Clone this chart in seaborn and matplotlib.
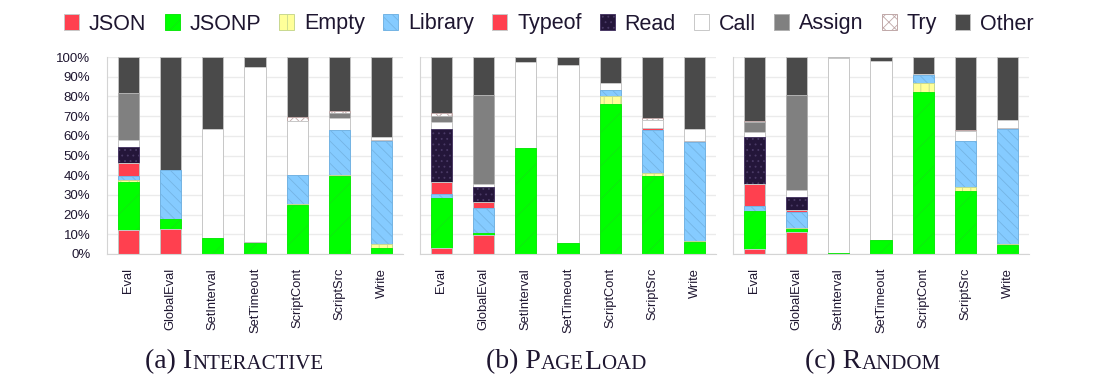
import numpy as np
import matplotlib
matplotlib.use("Agg")
import matplotlib.pyplot as plt
import matplotlib.patches as mpatches
from matplotlib.offsetbox import TextArea, HPacker, AnchoredOffsetbox
import seaborn as sns

sns.set_style("white")
plt.rcParams["font.family"] = ["Liberation Sans", "DejaVu Sans"]
plt.rcParams["hatch.linewidth"] = 0.6

TEXT = "#1e1630"
GRID = "#ebebeb"
AXIS = "#d4d4d4"

# categories and stacked series (percent of calls)
categories = ["Eval", "GlobalEval", "SetInterval", "SetTimeout", "ScriptCont", "ScriptSrc", "Write"]
series_names = ["JSON", "JSONP", "Empty", "Library", "Typeof", "Read", "Call", "Assign", "Try", "Other"]

interactive = {
    "JSON":    [12.3, 12.5, 0.0, 0.0, 0.0, 0.0, 0.0],
    "JSONP":   [24.5, 5.1, 8.0, 5.8, 24.9, 39.8, 2.9],
    "Empty":   [1.0, 0.0, 0.0, 0.0, 0.7, 0.5, 2.0],
    "Library": [1.7, 25.1, 0.0, 0.0, 14.6, 22.7, 52.7],
    "Typeof":  [6.5, 0.0, 0.0, 0.3, 0.0, 0.0, 0.3],
    "Read":    [8.5, 0.0, 0.0, 0.0, 0.0, 0.0, 0.0],
    "Call":    [3.4, 0.0, 55.4, 88.8, 27.1, 6.0, 1.4],
    "Assign":  [23.7, 0.0, 0.0, 0.0, 0.0, 2.5, 0.0],
    "Try":     [0.0, 0.0, 0.0, 0.0, 2.3, 1.0, 0.0],
    "Other":   [18.4, 57.3, 36.6, 5.1, 30.4, 27.5, 40.7],
}

pageload = {
    "JSON":    [3.2, 9.7, 0.0, 0.0, 0.0, 0.0, 0.0],
    "JSONP":   [25.1, 1.1, 53.7, 5.4, 76.3, 39.7, 5.9],
    "Empty":   [0.0, 0.0, 0.0, 0.0, 3.7, 1.3, 0.9],
    "Library": [2.2, 12.8, 0.0, 0.0, 3.4, 22.0, 49.8],
    "Typeof":  [6.3, 3.0, 0.0, 0.0, 0.0, 0.9, 1.0],
    "Read":    [26.6, 7.3, 0.0, 0.0, 0.0, 0.0, 0.0],
    "Call":    [3.4, 1.5, 43.6, 90.7, 3.4, 4.2, 5.8],
    "Assign":  [3.4, 45.1, 0.0, 0.0, 0.0, 0.0, 0.0],
    "Try":     [1.3, 0.0, 0.0, 0.0, 0.0, 0.9, 0.0],
    "Other":   [28.5, 19.5, 2.7, 3.9, 13.2, 31.0, 36.6],
}

random_ = {
    "JSON":    [2.4, 11.2, 0.0, 0.0, 0.0, 0.0, 0.0],
    "JSONP":   [19.3, 1.5, 0.3, 7.1, 82.0, 32.0, 4.6],
    "Empty":   [0.0, 0.7, 0.0, 0.0, 4.8, 2.2, 0.5],
    "Library": [2.7, 7.8, 0.0, 0.0, 4.0, 23.4, 58.3],
    "Typeof":  [11.0, 1.2, 0.0, 0.0, 0.0, 0.0, 0.8],
    "Read":    [23.9, 6.6, 0.0, 0.0, 0.0, 0.0, 0.0],
    "Call":    [2.7, 3.4, 99.2, 90.7, 0.7, 4.6, 3.6],
    "Assign":  [4.8, 48.1, 0.0, 0.0, 0.0, 0.0, 0.0],
    "Try":     [0.8, 0.0, 0.0, 0.0, 0.0, 0.8, 0.0],
    "Other":   [32.4, 19.5, 0.5, 2.2, 8.5, 37.0, 32.2],
}

# look of each series: face colour, hatch, hatch/edge colour
face = {"JSON": "#ff404f", "JSONP": "#00ff00", "Empty": "#ffff99", "Library": "#85cbff",
        "Typeof": "#ff404f", "Read": "#24163a", "Call": "#ffffff", "Assign": "#808080",
        "Try": "#ffffff", "Other": "#4a4a4a"}
hatch = {"JSON": None, "JSONP": "/", "Empty": "||", "Library": "\\\\\\", "Typeof": None,
         "Read": "...", "Call": None, "Assign": None, "Try": "xxx", "Other": None}
edge = {"JSON": "#c8c8c8", "JSONP": "#10e810", "Empty": "#c8d890", "Library": "#74b4e4",
        "Typeof": "#c8c8c8", "Read": "#4a3a66", "Call": "#c8c8c8", "Assign": "#b0b0b0",
        "Try": "#c0a8a8", "Other": "#c0c0c0"}

fig = plt.figure(figsize=(11, 3.82), dpi=100)
W, H = 1100, 382
lefts = [107, 420, 733]
ax_w = 296
bottom = (H - 254) / H
height = (254 - 57) / H

panels = [interactive, pageload, random_]
axes = []
for k, (left, data) in enumerate(zip(lefts, panels)):
    ax = fig.add_axes([left / W, bottom, ax_w / W, height])
    vals = np.array([data[s] for s in series_names])
    tops = np.cumsum(vals, axis=0)
    # draw tallest first, each lower stack covers the one above it
    for i in reversed(range(len(series_names))):
        s = series_names[i]
        kws = dict(edgecolor=edge[s], linewidth=0.7)
        if hatch[s]:
            kws["hatch"] = hatch[s]
        sns.barplot(x=categories, y=tops[i], color=face[s], saturation=1, width=0.5,
                    errorbar=None, ax=ax, **kws)
    ax.set_ylim(0, 100)
    ax.set_xlim(-0.5, len(categories) - 0.5)
    ax.set_yticks(np.arange(0, 101, 10))
    ax.set_yticklabels([f"{v}%" for v in range(0, 101, 10)] if k == 0 else [])
    ax.yaxis.grid(True, color=GRID, linewidth=1)
    ax.set_axisbelow(True)
    ax.set_xticks(range(len(categories)))
    ax.set_xticklabels(categories, rotation=90, fontsize=9.3, color=TEXT)
    ax.set_xticks(np.arange(-0.5, len(categories)), minor=True)
    ax.tick_params(axis="x", which="major", length=0, pad=10)
    ax.tick_params(axis="x", which="minor", length=7, color=AXIS, width=1)
    ax.tick_params(axis="y", length=4, color=AXIS, labelsize=9.5, labelcolor=TEXT, pad=8)
    ax.set_xlabel("")
    ax.set_ylabel("")
    for sp in ["top", "right"]:
        ax.spines[sp].set_visible(False)
    for sp in ["left", "bottom"]:
        ax.spines[sp].set_color(AXIS)
    axes.append(ax)

# legend across the top
handles = []
for s in series_names:
    handles.append(mpatches.Patch(facecolor=face[s], edgecolor=edge[s], hatch=hatch[s],
                                  linewidth=0.7, label=s))
fig.legend(handles=handles, loc="center", bbox_to_anchor=(549 / W, 1 - 24 / H), ncol=10,
           frameon=False, fontsize=15.5, handlelength=0.7, handleheight=0.75,
           handletextpad=0.45, columnspacing=0.85, labelcolor=TEXT)

# sub captions with small caps
captions = [[("(a) I", 20), ("NTERACTIVE", 15)],
            [("(b) P", 20), ("AGE", 15), ("L", 20), ("OAD", 15)],
            [("(c) R", 20), ("ANDOM", 15)]]
cap_x = [234, 566, 873]
for parts, cx in zip(captions, cap_x):
    boxes = [TextArea(t, textprops=dict(fontsize=sz, family="Liberation Serif", color=TEXT))
             for t, sz in parts]
    pack = HPacker(children=boxes, align="baseline", pad=0, sep=0)
    anchored = AnchoredOffsetbox(loc="center", child=pack, pad=0, borderpad=0, frameon=False,
                                 bbox_to_anchor=(cx / W, 1 - 362 / H),
                                 bbox_transform=fig.transFigure)
    fig.add_artist(anchored)

plt.savefig("out.png", dpi=100)
